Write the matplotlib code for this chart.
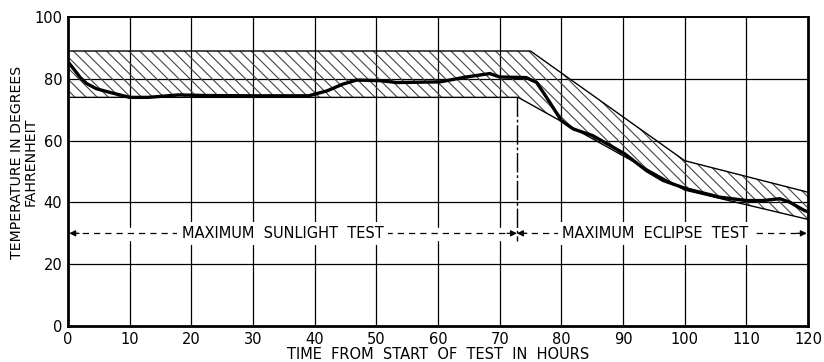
import matplotlib
matplotlib.use("Agg")
import matplotlib.pyplot as plt

# ---- data ----
hours = [0, 1, 2, 3, 4.6, 6.8, 10, 13, 18, 22, 30, 39, 42, 44.6, 46.8, 50.6,
         53.3, 60.3, 64.6, 68.4, 70, 74.3, 76, 77.6, 80, 81.9, 85.1, 90.3,
         93.8, 96.5, 100.3, 105.7, 110, 112.7, 115.4, 117, 119.4, 120]
temps = [85.5, 83, 80.4, 78.5, 76.8, 75.6, 74, 74, 74.8, 74.6, 74.5, 74.5,
         76.1, 78.3, 79.6, 79.4, 78.8, 79, 80.6, 81.7, 80.6, 80.4, 78.8, 74,
         66.5, 63.8, 61.6, 55.7, 50.3, 47.1, 44.4, 41.7, 40.6, 40.6, 41.2,
         40.1, 37.4, 37]

upper_hours = [0, 75, 100, 120]
upper_temps = [89, 89, 53.5, 43.3]
lower_hours = [0, 73, 100, 120]
lower_temps = [74, 74, 44, 34.5]

split_hour = 72.8
label_level = 30
sun_label = "MAXIMUM  SUNLIGHT  TEST"
ecl_label = "MAXIMUM  ECLIPSE  TEST"
xticks = [0, 10, 20, 30, 40, 50, 60, 70, 80, 90, 100, 110, 120]
yticks = [0, 20, 40, 60, 80, 100]

plt.rcParams['hatch.linewidth'] = 0.8

fig = plt.figure(figsize=(8.24, 3.62), dpi=100)
ax = fig.add_axes([0.0825, 0.0994, 0.8981, 0.8536])
ax.set_xlim(0, 120)
ax.set_ylim(0, 100)

# grid
for x in xticks[1:-1]:
    ax.axvline(x, color='black', lw=0.9, zorder=1)
for y in yticks[1:-1]:
    ax.axhline(y, color='black', lw=0.9, zorder=1)

# band
poly_x = upper_hours + lower_hours[::-1]
poly_y = upper_temps + lower_temps[::-1]
ax.fill(poly_x, poly_y, facecolor='none', edgecolor='#444444', linewidth=0,
        hatch='\\\\\\', zorder=2)
ax.plot(upper_hours, upper_temps, color='black', lw=1.0, zorder=3)
ax.plot(lower_hours, lower_temps, color='black', lw=1.0, zorder=3)

# curve
ax.plot(hours, temps, color='black', lw=2.4, solid_capstyle='round', zorder=5)

# white strip for test labels
ax.axhspan(label_level - 2.2, label_level + 1.8, color='white', zorder=3)

# separator
ax.plot([split_hour, split_hour], [lower_temps[1], 27.5], color='black', lw=1.0,
        dashes=(14, 2, 2, 2), zorder=4)

# dashed spans with arrowheads
ax.plot([0.5, split_hour - 0.5], [label_level, label_level], color='black', lw=0.9,
        dashes=(5, 4), zorder=4)
ax.plot([split_hour + 0.5, 119.5], [label_level, label_level], color='black', lw=0.9,
        dashes=(5, 4), zorder=4)
head = dict(arrowstyle='-|>', color='black', lw=0.9, mutation_scale=9,
            shrinkA=0, shrinkB=0)
ax.annotate('', xy=(0.2, label_level), xytext=(1.8, label_level), arrowprops=head, zorder=6)
ax.annotate('', xy=(split_hour, label_level), xytext=(split_hour - 1.6, label_level), arrowprops=head, zorder=6)
ax.annotate('', xy=(split_hour, label_level), xytext=(split_hour + 1.6, label_level), arrowprops=head, zorder=6)
ax.annotate('', xy=(119.8, label_level), xytext=(118.2, label_level), arrowprops=head, zorder=6)

tb = dict(facecolor='white', edgecolor='none', pad=3)
ax.text(34.8, label_level, sun_label, ha='center', va='center', fontsize=10.5,
        bbox=tb, zorder=6)
ax.text(95.2, label_level, ecl_label, ha='center', va='center', fontsize=10.5,
        bbox=tb, zorder=6)

# axes styling
for s in ['left', 'bottom', 'right']:
    ax.spines[s].set_linewidth(2.0)
ax.spines['top'].set_linewidth(1.4)
for s in ax.spines.values():
    s.set_zorder(7)
ax.set_xticks(xticks)
ax.set_yticks(yticks)
ax.set_xticklabels([str(v) for v in xticks], fontsize=10.5)
ax.set_yticklabels([str(v) for v in yticks], fontsize=10.5)
ax.tick_params(length=0, pad=4)
ax.set_xlabel("TIME  FROM  START  OF  TEST  IN  HOURS", fontsize=10.5, labelpad=0)
ax.set_ylabel("TEMPERATURE IN DEGREES\nFAHRENHEIT", fontsize=10.2,
              linespacing=0.95)
ax.yaxis.set_label_coords(-0.041, 0.53)

fig.savefig("out.png", dpi=100)
